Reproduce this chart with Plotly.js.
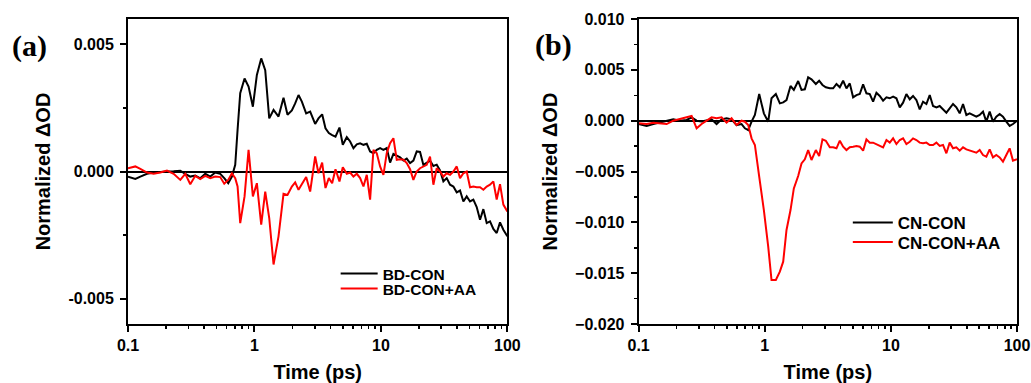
<!DOCTYPE html>
<html>
<head>
<meta charset="utf-8">
<script src="https://cdn.plot.ly/plotly-3.0.1.min.js"></script>
<style>html,body{margin:0;padding:0;background:#fff;}#chart{width:1031px;height:383px;}</style>
</head>
<body>
<div id="chart"></div>
<script>
// ---- Panel (a) data ----
const timeA = [0.1, 0.1143, 0.1252, 0.1413, 0.1595, 0.1801, 0.2033, 0.2296, 0.2592, 0.2838, 0.3108, 0.3404, 0.3728, 0.4083, 0.4472, 0.4898, 0.5364, 0.5769, 0.6204, 0.6632, 0.7047, 0.7354, 0.7718, 0.8351, 0.8983, 0.9719, 1.045, 1.131, 1.217, 1.309, 1.416, 1.550, 1.698, 1.826, 1.976, 2.099, 2.231, 2.371, 2.564, 2.758, 3.021, 3.209, 3.431, 3.646, 3.874, 4.116, 4.374, 4.703, 4.996, 5.374, 5.712, 6.067, 6.446, 6.850, 7.278, 7.732, 8.217, 8.730, 9.275, 9.855, 10.47, 11.12, 11.82, 12.56, 13.35, 14.18, 15.07, 16.01, 17.01, 18.07, 19.20, 20.40, 21.68, 23.03, 24.47, 26.01, 27.63, 29.36, 31.20, 33.15, 35.23, 37.43, 39.77, 42.26, 44.90, 47.71, 50.70, 53.86, 57.23, 60.81, 64.61, 68.66, 72.95, 77.51, 82.36, 87.51, 92.98, 100];
const bdCon = [-0.0002, -0.00029, -0.0002, -0.00009, -0.00004, -0.00001, 0, 0.00001, 0.00003, -0.00009, -0.0002, -0.00016, -0.00027, -0.00009, -0.0002, -0.00004, -0.00009, -0.00026, -0.00046, -0.0002, 0.00026, 0.00164, 0.00308, 0.00366, 0.00334, 0.00255, 0.0038, 0.00445, 0.00399, 0.00209, 0.00242, 0.00216, 0.0029, 0.00223, 0.0024, 0.00268, 0.00301, 0.00275, 0.00229, 0.00236, 0.00187, 0.00209, 0.00225, 0.0017, 0.00151, 0.00143, 0.00137, 0.00173, 0.00105, 0.00135, 0.00118, 0.00092, 0.00107, 0.00111, 0.00105, 0.00109, 0.00079, 0.00072, 0.00085, 0.00092, 0.00085, 0.00092, 0.00035, 0.00069, 0.00062, 0.00056, 0.00043, 0.00051, 0.00033, 0.00043, 0.00079, 0.00077, 0.00026, 0.00035, 0.00043, 0.00022, 0.00027, 0.00004, -0.00039, -0.00026, -0.00052, -0.00059, -0.00082, -0.00075, -0.00118, -0.00098, -0.00118, -0.00111, -0.0014, -0.0019, -0.00148, -0.00203, -0.00196, -0.00226, -0.00242, -0.002, -0.00229, -0.00255];
const bdConAA = [0.00013, 0.0002, 0.0001, -0.00004, -0.00009, -0.00004, 0.00004, -0.00009, -0.00033, -0.00009, -0.0005, -0.00017, -0.0003, -0.00017, -0.00026, -0.0002, -0.00022, -0.00048, -0.00033, -0.00007, -0.00026, -0.00059, -0.00203, -0.00098, 0.00085, -0.00098, -0.00046, -0.00209, -0.00079, -0.00183, -0.00366, -0.00255, -0.00088, -0.00092, -0.00059, -0.00043, -0.00072, -0.00052, -0.00022, -0.00079, 0.00059, -0.00007, 0.00035, -0.00065, -0.00026, -0.00046, 0.00009, -0.00039, 0.00017, -0.00009, -0.00004, -0.0002, -0.00009, -0.00026, -0.00059, -0.00013, -0.00111, 0.00085, 0.00072, 0.0002, -0.00013, 0.00072, 0.00111, 0.00131, 0.00046, 0.00048, 0.00046, 0.00033, 0.00009, -0.00033, 0, 0.00013, 0.0002, 0.00026, 0.00059, -0.00052, 0.00013, 0, -0.0002, -0.00007, -0.00013, 0, 0.0002, -0.00026, -0.00007, 0, -0.00062, -0.00059, -0.00062, -0.00062, -0.00072, -0.00059, -0.00052, -0.00039, -0.0011, -0.0005, -0.0013, -0.00157];

// ---- Panel (b) data ----
const timeB = [0.1, 0.1157, 0.1307, 0.1476, 0.1667, 0.1882, 0.2125, 0.2400, 0.2630, 0.2881, 0.3156, 0.3458, 0.3788, 0.4149, 0.4545, 0.4980, 0.5454, 0.5976, 0.6546, 0.6957, 0.7393, 0.7857, 0.8348, 0.9034, 0.9837, 1.065, 1.131, 1.224, 1.317, 1.400, 1.487, 1.600, 1.700, 1.840, 1.956, 2.078, 2.208, 2.347, 2.540, 2.699, 2.868, 3.048, 3.279, 3.484, 3.703, 3.935, 4.181, 4.443, 4.721, 5.017, 5.333, 5.667, 6.022, 6.399, 6.800, 7.227, 7.679, 8.160, 8.672, 9.218, 9.795, 10.41, 11.06, 11.76, 12.49, 13.27, 14.11, 14.99, 15.93, 16.93, 17.99, 19.12, 20.32, 21.59, 22.95, 24.38, 25.91, 27.54, 29.26, 31.10, 33.05, 35.13, 37.33, 39.67, 42.15, 44.80, 47.60, 50.59, 53.76, 57.13, 60.71, 64.51, 68.55, 72.85, 77.42, 82.27, 87.42, 92.90, 100];
const cnCon = [-0.00033, -0.00052, -0.00033, -0.0002, -0.00007, 0.00013, 0, 0.00007, 0.00033, 0, -0.00007, 0, 0.00013, -0.00033, 0.00013, 0.00023, 0.00013, -0.00043, -0.00033, -0.00075, -0.00092, -0.0001, 0.00056, 0.00262, 0.00072, -0.0001, 0.0022, 0.00262, 0.0017, 0.0018, 0.00203, 0.00341, 0.00302, 0.0039, 0.00302, 0.00308, 0.00426, 0.00407, 0.00361, 0.00393, 0.00351, 0.00328, 0.00318, 0.00318, 0.00361, 0.00328, 0.00393, 0.00318, 0.00367, 0.0023, 0.00252, 0.00262, 0.00357, 0.00269, 0.00262, 0.00187, 0.00275, 0.00243, 0.00197, 0.0023, 0.0022, 0.00236, 0.0022, 0.00131, 0.00177, 0.00262, 0.0021, 0.00243, 0.00203, 0.00111, 0.00187, 0.00164, 0.00252, 0.00144, 0.00131, 0.00144, 0.00111, 0.00079, 0.00121, 0.00164, 0.00131, 0.00072, 0.00164, 0.00056, 0.00072, 0.00056, 0.00039, 0.00056, 0.00089, -0.0001, 0.00089, -0.0001, 0.00039, 0.00066, 0.00039, -0.0001, -0.00052, -0.00033, 0];
const cnConAA = [-0.00026, -0.00033, -0.0002, -0.00026, -0.00033, 0, 0.00013, 0.00033, 0.00046, -0.00075, -0.00033, 0, 0.00033, 0.00023, 0.00033, -0.0002, 0.00023, -0.00043, 0, -0.0001, -0.00043, -0.00174, -0.00239, -0.00551, -0.00879, -0.0124, -0.01567, -0.01567, -0.01485, -0.01387, -0.01075, -0.00879, -0.00666, -0.00544, -0.0042, -0.0038, -0.00289, -0.00387, -0.00289, -0.00348, -0.00184, -0.00197, -0.00262, -0.00262, -0.00272, -0.00197, -0.00256, -0.00289, -0.00262, -0.00256, -0.00249, -0.00256, -0.00295, -0.00184, -0.00216, -0.00216, -0.0023, -0.00249, -0.00262, -0.0019, -0.00216, -0.00174, -0.0023, -0.0019, -0.00174, -0.0023, -0.00207, -0.00174, -0.0019, -0.00216, -0.00223, -0.00216, -0.00239, -0.00239, -0.00216, -0.00249, -0.00239, -0.00321, -0.00216, -0.00272, -0.00262, -0.00295, -0.00262, -0.00282, -0.00295, -0.00305, -0.00315, -0.00289, -0.00338, -0.00354, -0.00282, -0.00361, -0.00338, -0.00361, -0.00403, -0.00338, -0.00272, -0.00393, -0.0038];

// ---- Labels ----
const seriesNames = ['BD-CON', 'BD-CON+AA', 'CN-CON', 'CN-CON+AA'];
const xTickVals = [0.1, 1, 10, 100];
const xTickText = ['0.1', '1', '10', '100'];
const yTickValsA = [-0.005, 0, 0.005];
const yTickTextA = ['-0.005', '0.000', '0.005'];
const xTitle = 'Time (ps)';
const yTitle = 'Normalized ΔOD';
const panelLabels = ['(a)', '(b)'];

const FONT = 'Liberation Sans, Arial, sans-serif';
const tickFont = {family: FONT, size: 16, color: '#000', weight: 'bold'};
const titleFont = {family: FONT, size: 20, color: '#000', weight: 'bold'};

function xAxis(domain, anchor) {
  return {
    type: 'log', domain: domain, anchor: anchor, range: [-1, 2],
    tickvals: xTickVals, ticktext: xTickText,
    ticks: 'outside', ticklen: 6, tickwidth: 2, tickcolor: '#000',
    minor: {ticks: 'outside', ticklen: 3, tickwidth: 1.5, tickcolor: '#000', dtick: 'D1', showgrid: false},
    showline: true, linecolor: '#000', linewidth: 2, mirror: true,
    showgrid: false, zeroline: false,
    tickfont: tickFont,
    title: {text: xTitle, font: titleFont, standoff: 12}
  };
}
function yAxis(anchor, range, extra) {
  return Object.assign({
    anchor: anchor, domain: [0, 1], range: range,
    ticks: 'outside', ticklen: 6, tickwidth: 2, tickcolor: '#000', ticklabelstandoff: 3,
    minor: {ticks: 'outside', ticklen: 3, tickwidth: 1.5, tickcolor: '#000', dtick: 0.0025, showgrid: false},
    showline: true, linecolor: '#000', linewidth: 2, mirror: true,
    showgrid: false, zeroline: true, zerolinecolor: '#000', zerolinewidth: 2,
    tickfont: tickFont,
    title: {text: yTitle, font: titleFont, standoff: 12}
  }, extra);
}

const traces = [
  {x: timeA, y: bdCon, name: seriesNames[0], xaxis: 'x', yaxis: 'y', mode: 'lines', line: {color: '#000000', width: 2}, legend: 'legend'},
  {x: timeA, y: bdConAA, name: seriesNames[1], xaxis: 'x', yaxis: 'y', mode: 'lines', line: {color: '#ff0000', width: 2}, legend: 'legend2'},
  {x: timeB, y: cnCon, name: seriesNames[2], xaxis: 'x2', yaxis: 'y2', mode: 'lines', line: {color: '#000000', width: 2}, legend: 'legend3'},
  {x: timeB, y: cnConAA, name: seriesNames[3], xaxis: 'x2', yaxis: 'y2', mode: 'lines', line: {color: '#ff0000', width: 2}, legend: 'legend4'}
];

const L = 127.7, R = 13.7, T = 19, B = 59;
const W = 1031 - L - R;
const H = 383 - T - B;
function legendAt(leftPx, topPx, size, itemw) {
  return {
    x: (leftPx - L) / W, y: (383 - B - topPx) / H, xanchor: 'left', yanchor: 'top',
    bgcolor: 'rgba(0,0,0,0)', borderwidth: 0, itemwidth: itemw,
    font: {family: FONT, size: size, color: '#000', weight: 'bold'}
  };
}
const layout = {
  width: 1031, height: 383,
  margin: {l: L, r: R, t: T, b: B, pad: 0},
  paper_bgcolor: '#fff', plot_bgcolor: '#fff',
  showlegend: true,
  xaxis: xAxis([0, (507.3 - L) / W], 'y'),
  yaxis: yAxis('x', [-0.006, 0.006], {tickvals: yTickValsA, ticktext: yTickTextA}),
  xaxis2: xAxis([(638.7 - L) / W, 1], 'y2'),
  yaxis2: yAxis('x2', [-0.02, 0.01], {dtick: 0.005, tick0: 0, tickformat: '.3f'}),
  legend: legendAt(335.5, 257, 15.5, 37),
  legend2: legendAt(335.5, 272, 15.5, 37),
  legend3: legendAt(848, 205, 17, 40),
  legend4: legendAt(848, 224.5, 17, 40),
  annotations: [
    {text: panelLabels[0], xref: 'paper', yref: 'paper', x: (29 - L) / W, y: (383 - B - 46) / H, xanchor: 'center', yanchor: 'middle', showarrow: false,
     font: {family: 'Liberation Serif, Times New Roman, serif', size: 30, color: '#000', weight: 'bold'}},
    {text: panelLabels[1], xref: 'paper', yref: 'paper', x: (553.8 - L) / W, y: (383 - B - 45) / H, xanchor: 'center', yanchor: 'middle', showarrow: false,
     font: {family: 'Liberation Serif, Times New Roman, serif', size: 30, color: '#000', weight: 'bold'}}
  ]
};

Plotly.newPlot('chart', traces, layout, {displayModeBar: false, staticPlot: true});
</script>
</body>
</html>
